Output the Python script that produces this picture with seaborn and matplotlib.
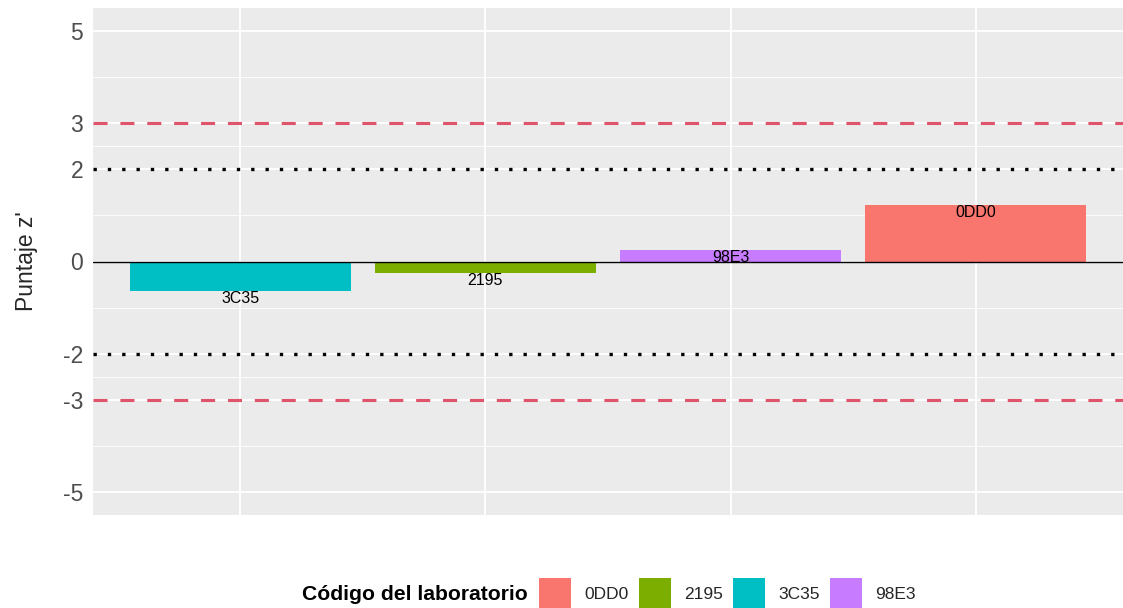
import matplotlib
matplotlib.use("Agg")
import matplotlib.pyplot as plt
import seaborn as sns
import pandas as pd
from matplotlib.patches import Patch

labs = ["3C35", "2195", "98E3", "0DD0"]
zscores = [-0.63, -0.25, 0.26, 1.22]
legend_order = ["0DD0", "2195", "3C35", "98E3"]
colors = ["#F8766D", "#7CAE00", "#00BFC4", "#C77CFF"]
yticks = [-5, -3, -2, 0, 2, 3, 5]
minor_y = [-4, -2.5, -1, 1, 2.5, 4]

df = pd.DataFrame({"lab": labs, "z": zscores})
palette = dict(zip(legend_order, colors))

sns.set_theme(style="darkgrid")
plt.rcParams["font.family"] = ["Liberation Sans", "DejaVu Sans"]
fig = plt.figure(figsize=(11.23, 6.08), dpi=100)
ax = fig.add_axes([93/1123, 1-515/608, 1-93/1123, (515-8)/608])
ax.set_facecolor("#EBEBEB")

sns.barplot(data=df, x="lab", y="z", hue="lab", order=labs, hue_order=legend_order,
            palette=palette, width=0.9, dodge=False, legend=False, ax=ax,
            saturation=1, edgecolor="none")

ax.set_ylim(-5.5, 5.5)
ax.set_xlim(-0.6, 3.6)
ax.set_yticks(yticks)
ax.set_yticklabels([str(t) for t in yticks], fontsize=16.5, color="#4D4D4D")
ax.set_yticks(minor_y, minor=True)
ax.grid(True, which="major", color="white", linewidth=1.3)
ax.grid(True, which="minor", axis="y", color="white", linewidth=0.6)
ax.tick_params(axis="y", which="major", length=5, width=1, color="#333333", pad=2)
ax.tick_params(axis="y", which="minor", length=0)
ax.tick_params(axis="x", length=0, labelbottom=False)
ax.set_xlabel("")
ax.set_ylabel("Puntaje z'", fontsize=16.5, labelpad=18)
for s in ax.spines.values():
    s.set_visible(False)

ax.axhline(0, color="black", linewidth=1.0, zorder=3)
for v in (3, -3):
    ax.axhline(v, color="#DF536B", linestyle=(0, (4.6, 4.2)), linewidth=2.2, zorder=3)
for v in (2, -2):
    ax.axhline(v, color="black", linestyle=(0, (1, 3.3)), linewidth=2.4, zorder=3)

for i, (lab, z) in enumerate(zip(labs, zscores)):
    ax.text(i, z, lab, ha="center", va="top", fontsize=11.5, color="black", zorder=4)

fig.text(528/1123, 1-595/608, "Código del laboratorio", ha="right", va="center",
         fontsize=15.2, fontweight="bold", color="black")
handles = [Patch(facecolor=palette[k], edgecolor="none") for k in legend_order]
fig.legend(handles, legend_order, loc="center left", bbox_to_anchor=(539/1123, 1-594/608),
           ncol=4, frameon=False, fontsize=12.5, handlelength=1.85, handleheight=2.5,
           handletextpad=0.75, columnspacing=0.6, borderaxespad=0, borderpad=0)

fig.savefig("out.png", dpi=100, facecolor="white")
